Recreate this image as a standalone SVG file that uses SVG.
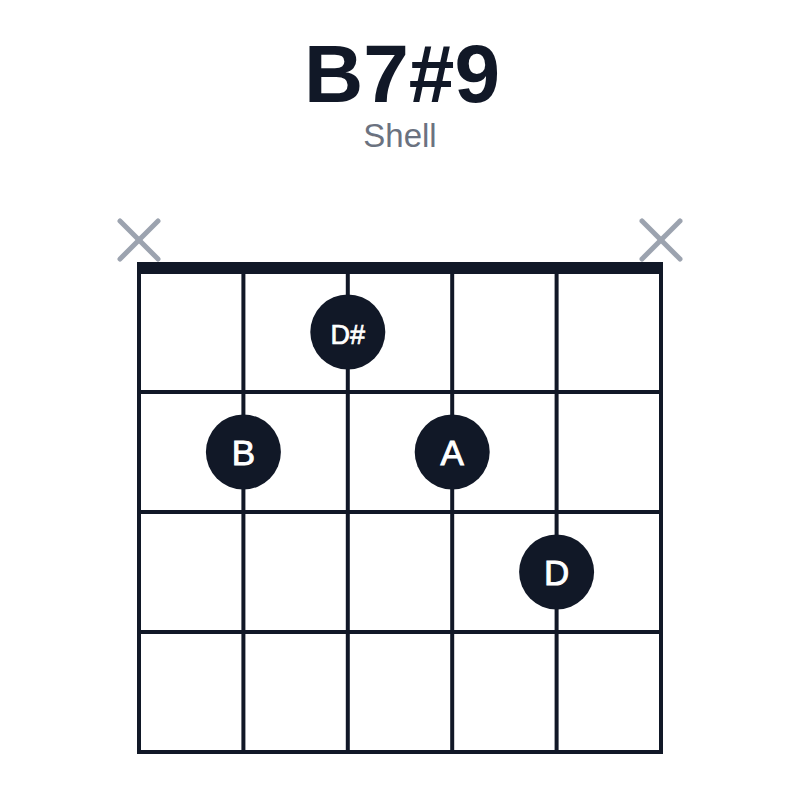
<svg xmlns="http://www.w3.org/2000/svg" width="800" height="800" viewBox="0 0 800 800">
<style>
.title{font-family:"Liberation Sans",Arial,sans-serif;font-weight:bold;font-size:82px;fill:#111827;text-anchor:middle}
.sub{font-family:"Liberation Sans",Arial,sans-serif;font-size:33px;fill:#6b7280;text-anchor:middle}
.grid line{stroke:#111827;stroke-width:4}
.mute{stroke:#9ca3af;stroke-width:5;stroke-linecap:round}
.dot circle{fill:#111827}
.dot text{font-family:"Liberation Sans",Arial,sans-serif;fill:#ffffff;stroke:#ffffff;stroke-width:0.9;text-anchor:middle;font-size:35px}
.dot text.sm{font-size:27px;stroke-width:0.7}
</style>
<rect width="800" height="800" fill="#ffffff"/>
<text class="title" x="402" y="102">B7#9</text>
<text class="sub" x="400" y="147">Shell</text>
<g id="grid" class="grid">
<line x1="139" y1="272" x2="139" y2="752"/>
<line x1="243.4" y1="272" x2="243.4" y2="752"/>
<line x1="347.8" y1="272" x2="347.8" y2="752"/>
<line x1="452.2" y1="272" x2="452.2" y2="752"/>
<line x1="556.6" y1="272" x2="556.6" y2="752"/>
<line x1="661" y1="272" x2="661" y2="752"/>
<line x1="137" y1="392" x2="663" y2="392"/>
<line x1="137" y1="512" x2="663" y2="512"/>
<line x1="137" y1="632" x2="663" y2="632"/>
<line x1="137" y1="752" x2="663" y2="752"/>
</g>
<rect id="nut" x="137" y="262" width="526" height="12" fill="#111827"/>
<g id="mute-1">
<line class="mute" x1="120" y1="221" x2="158" y2="259"/>
<line class="mute" x1="158" y1="221" x2="120" y2="259"/>
</g>
<g id="mute-6">
<line class="mute" x1="642" y1="221" x2="680" y2="259"/>
<line class="mute" x1="680" y1="221" x2="642" y2="259"/>
</g>
<g id="dot-Dsharp" class="dot">
<circle cx="347.8" cy="332" r="37.5"/>
<text class="sm" x="347.8" y="344">D#</text>
</g>
<g id="dot-B" class="dot">
<circle cx="243.4" cy="452" r="37.5"/>
<text x="243.4" y="464.5">B</text>
</g>
<g id="dot-A" class="dot">
<circle cx="452.2" cy="452" r="37.5"/>
<text x="452.2" y="464.5">A</text>
</g>
<g id="dot-D" class="dot">
<circle cx="556.6" cy="572" r="37.5"/>
<text x="556.6" y="584.5">D</text>
</g>
</svg>
